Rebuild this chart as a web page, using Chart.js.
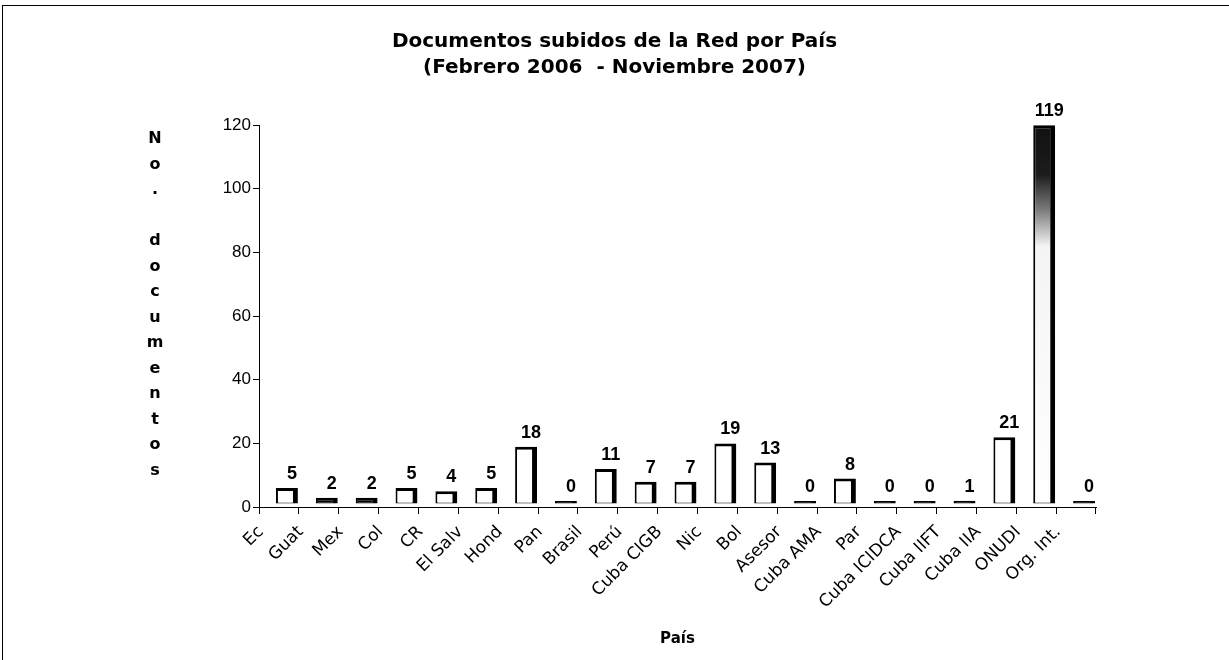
<!DOCTYPE html>
<html><head><meta charset="utf-8">
<script src="https://cdn.jsdelivr.net/npm/chart.js@4.4.1/dist/chart.umd.min.js"></script>
<style>
html,body{margin:0;padding:0;background:#fff;}
#wrap{position:relative;width:1229px;height:660px;overflow:hidden;}
#frame{position:absolute;left:2px;top:5px;right:-2px;bottom:-2px;border-left:1px solid #000;border-top:1px solid #000;pointer-events:none;}
canvas{display:block;}
</style></head><body>
<div id="wrap"><canvas id="c" width="1229" height="660"></canvas><div id="frame"></div></div>
<script>
// ---- data ----
const titleLines = ['Documentos subidos de la Red por País', '(Febrero 2006  - Noviembre 2007)'];
const yAxisTitle = 'No. documentos';
const xAxisTitle = 'País';
const categories = ['Ec','Guat','Mex','Col','CR','El Salv','Hond','Pan','Brasil','Perú','Cuba CIGB','Nic','Bol','Asesor','Cuba AMA','Par','Cuba ICIDCA','Cuba IIFT','Cuba IIA','ONUDI','Org. Int.'];
const documentos = [5,2,2,5,4,5,18,0,11,7,7,19,13,0,8,0,0,1,21,119,0];
const yTickValues = [0,20,40,60,80,100,120];

// ---- style ----
const DEPTH_X = 8, DEPTH_Y = -3;

const depthPlugin = {
  id: 'depth',
  beforeDatasetsDraw(chart) {
    const ctx = chart.ctx;
    ctx.save();
    ctx.translate(DEPTH_X, DEPTH_Y);
  },
  afterDatasetsDraw(chart) {
    const ctx = chart.ctx;
    const meta = chart.getDatasetMeta(0);
    ctx.font = 'bold 18px "Liberation Sans", Arial, sans-serif';
    ctx.fillStyle = '#000';
    ctx.textAlign = 'center';
    ctx.textBaseline = 'bottom';
    meta.data.forEach((el, i) => {
      ctx.fillText(String(chart.data.datasets[0].data[i]), el.x + 5, el.y - 5);
    });
    ctx.restore();
  }
};

const yTitlePlugin = {
  id: 'yTitleStack',
  afterDraw(chart) {
    const ctx = chart.ctx;
    ctx.save();
    ctx.font = 'bold 16px "DejaVu Sans", Verdana, sans-serif';
    ctx.fillStyle = '#000';
    ctx.textAlign = 'center';
    ctx.textBaseline = 'middle';
    const x = 155, y0 = 139, step = 25.5;
    [...yAxisTitle].forEach((ch, i) => {
      if (ch !== ' ') ctx.fillText(ch, x, y0 + i * step);
    });
    ctx.restore();
  }
};

function barFill(c) {
  const v = c.raw;
  if (v <= 2) return '#000';
  const chart = c.chart;
  const maxV = Math.max(...documentos);
  if (v === maxV && chart.chartArea) {
    const ys = chart.scales.y;
    const top = ys.getPixelForValue(v), bot = ys.getPixelForValue(0);
    const g = chart.ctx.createLinearGradient(0, top, 0, bot);
    g.addColorStop(0, '#111');
    g.addColorStop(0.13, '#1c1c1c');
    g.addColorStop(0.22, '#777');
    g.addColorStop(0.32, '#f4f4f4');
    g.addColorStop(1, '#fff');
    return g;
  }
  return '#ffffff';
}

new Chart(document.getElementById('c'), {
  type: 'bar',
  data: {
    labels: categories,
    datasets: [{
      label: 'Documentos',
      data: documentos,
      backgroundColor: barFill,
      borderColor: '#000000',
      borderWidth: {left: 2, right: 5, top: 3, bottom: 1},
      borderSkipped: false,
      minBarLength: 3,
      barPercentage: 0.55,
      categoryPercentage: 1.0
    }]
  },
  options: {
    responsive: false,
    animation: false,
    devicePixelRatio: 1,
    layout: {padding: {left: 0, right: 0, top: 0, bottom: 10}},
    plugins: {
      legend: {display: false},
      tooltip: {enabled: false},
      title: {
        display: true,
        text: titleLines,
        color: '#000',
        font: {family: '"DejaVu Sans", Verdana, sans-serif', size: 20, weight: 'bold', lineHeight: 1.3},
        padding: {top: 29, bottom: 44}
      }
    },
    scales: {
      x: {
        offset: true,
        grid: {display: true, drawOnChartArea: false, drawTicks: true, tickLength: 7, color: '#000', offset: true},
        border: {display: true, color: '#000', width: 1},
        ticks: {
          color: '#000',
          minRotation: 45, maxRotation: 45,
          autoSkip: false,
          labelOffset: -18,
          padding: 8,
          font: {family: '"DejaVu Sans", Verdana, sans-serif', size: 17}
        },
        title: {
          display: true, text: xAxisTitle, color: '#000',
          font: {family: '"DejaVu Sans", Verdana, sans-serif', size: 15, weight: 'bold'},
          padding: {top: 0, bottom: 2}
        },
        afterFit: s => { s.height = 143; }
      },
      y: {
        min: 0, max: 120,
        afterBuildTicks: s => { s.ticks = yTickValues.map(v => ({value: v})); },
        grid: {display: true, drawOnChartArea: false, drawTicks: true, tickLength: 6, color: '#000'},
        border: {display: true, color: '#000', width: 1},
        ticks: {
          color: '#000', padding: 2,
          font: {family: '"Liberation Sans", Arial, sans-serif', size: 17}
        },
        afterFit: s => { s.width = 259; }
      },
      rightSpace: {
        type: 'linear',
        position: 'right',
        display: true,
        grid: {display: false, drawTicks: false},
        border: {display: false},
        ticks: {display: false},
        afterFit: s => { s.width = 133; }
      }
    }
  },
  plugins: [depthPlugin, yTitlePlugin]
});
</script>
</body></html>
